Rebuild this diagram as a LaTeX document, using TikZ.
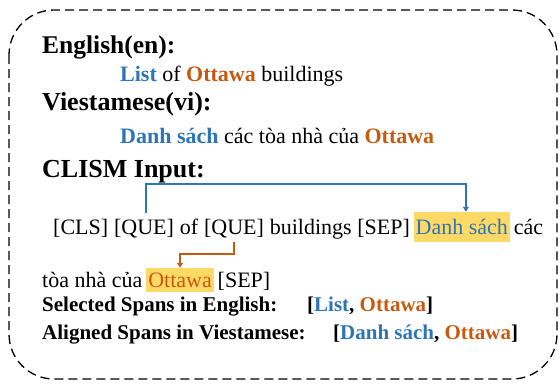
\documentclass[tikz,border=0pt]{standalone}
\usepackage{fontspec}
\setmainfont{Liberation Serif}
\usetikzlibrary{arrows.meta}
\definecolor{spanblue}{HTML}{2E75B6}
\definecolor{spanorange}{HTML}{C55A11}
\definecolor{marker}{HTML}{FFD966}

\begin{document}
\begin{tikzpicture}[x=1pt,y=-1pt,
  txt/.style={anchor=base west, inner sep=0pt, font=\fontsize{22}{26}\selectfont},
  head/.style={anchor=base west, inner sep=0pt, font=\fontsize{26}{30}\selectfont\bfseries},
  label/.style={anchor=base west, inner sep=0pt, font=\fontsize{21}{25}\selectfont\bfseries},
  tok/.style={txt, text height=21pt, text depth=8pt},
  hl/.style={tok, fill=marker, inner xsep=2pt, inner ysep=1pt, text height=21pt, text depth=7pt},
  hlb/.style={txt, fill=marker, inner xsep=2pt, inner ysep=0pt, text height=19pt, text depth=5pt},
  link/.style={line width=1.5pt, -{Triangle[width=6pt,length=5pt]}},
  frame/.style={line width=1.3pt, dash pattern=on 9pt off 5pt, rounded corners=45pt},
]
\useasboundingbox (0,0) rectangle (559,383);

% dashed outer frame
\draw[frame] (9,10) rectangle (557,379);

% the two sentences
\node[head, font=\fontsize{25.5}{30}\selectfont\bfseries] (en) at (42,53) {English(en):};
\node[txt] (ensent) at (120,81)
  {\textbf{\textcolor{spanblue}{List}} of \textbf{\textcolor{spanorange}{Ottawa}} buildings};
\node[head] (vi) at (42,110) {Viestamese(vi):};
\node[txt] (visent) at (120,143)
  {\textbf{\textcolor{spanblue}{Danh sách}} các tòa nhà của \textbf{\textcolor{spanorange}{Ottawa}}};

% model input, token by token
\node[head] (clism) at (42,177) {CLISM Input:};
\node[tok] (cls) at (53,234) {[CLS]};
\node[tok] (que1) at ([xshift=5.5pt]cls.base east) {[QUE]};
\node[tok] (of) at ([xshift=5.5pt]que1.base east) {of};
\node[tok] (que2) at ([xshift=5.5pt]of.base east) {[QUE]};
\node[tok] (bsep) at ([xshift=5.5pt]que2.base east) {buildings [SEP]};
\node[hl] (dsach) at ([xshift=3.5pt]bsep.base east) {\textcolor{spanblue}{Danh sách}};
\node[tok] (cac) at ([xshift=3.5pt]dsach.base east) {các};

\node[txt] (toa) at (42,287) {tòa nhà của};
\node[hlb] (otw) at ([xshift=3.5pt]toa.base east) {\textcolor{spanorange}{Ottawa}};
\node[txt] (sep2) at ([xshift=3.5pt]otw.base east) {[SEP]};

% span links from the query markers
\draw[link, spanblue] ([xshift=2pt]que1.north) -- ++(0,-29) -| ([xshift=4pt]dsach.north);
\draw[link, spanorange] (que2.south) -- ++(0,12) -| (otw.north);

% span summary
\node[label] (sel) at (42,311) {Selected Spans in English:};
\node[label] (selv) at (307,311)
  {[\textcolor{spanblue}{List}, \textcolor{spanorange}{Ottawa}]};
\node[label] (ali) at (42,339) {Aligned Spans in Viestamese:};
\node[label] (aliv) at (333,339)
  {[\textcolor{spanblue}{Danh sách}, \textcolor{spanorange}{Ottawa}]};
\end{tikzpicture}
\end{document}
